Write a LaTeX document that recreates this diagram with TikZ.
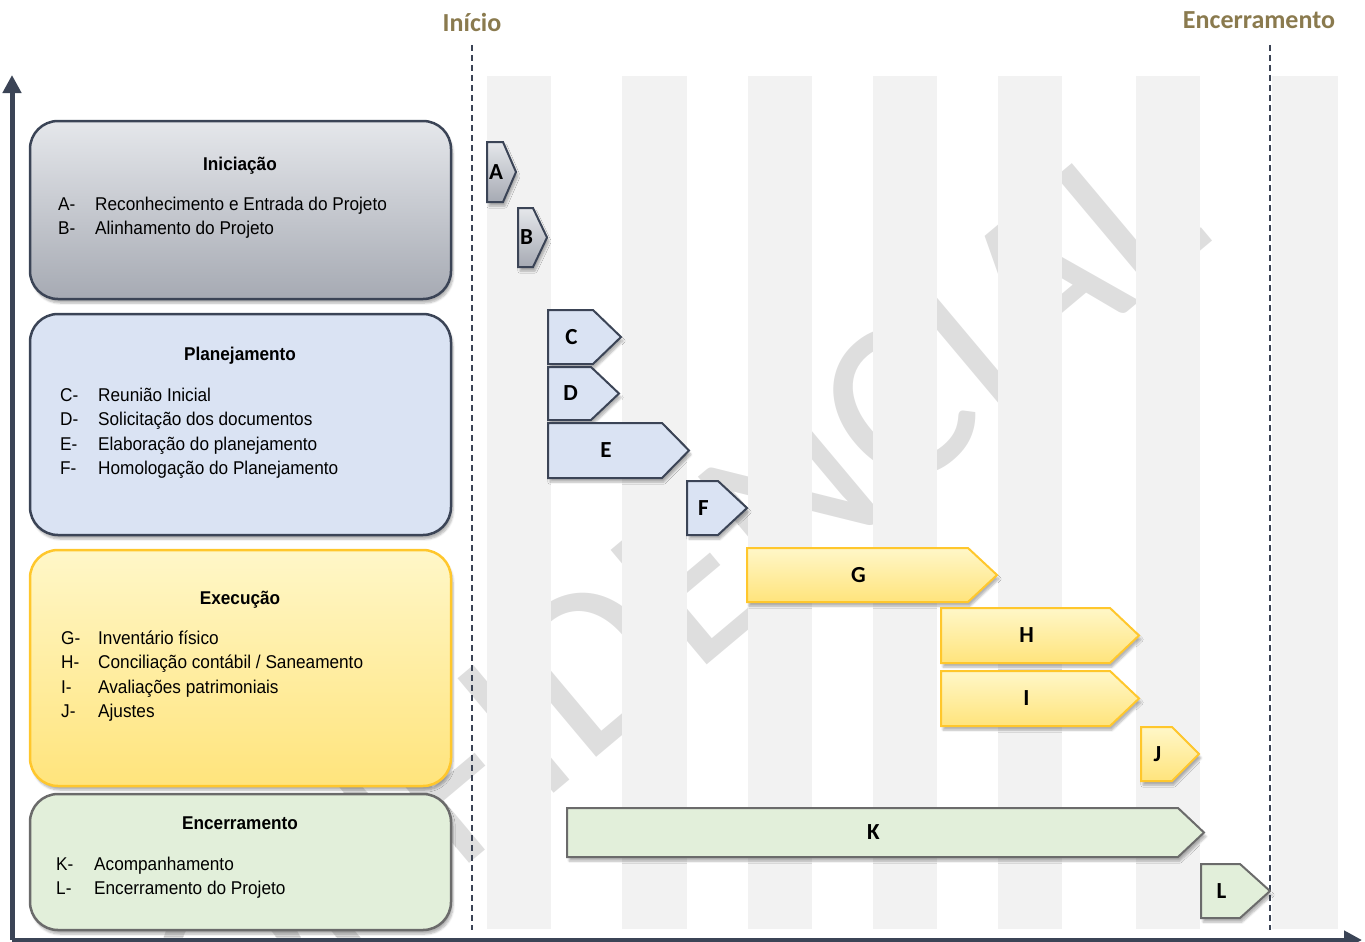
\documentclass[tikz,border=0pt]{standalone}
\usepackage{fontspec}
\setmainfont{Liberation Sans}[FakeStretch=0.93]
\newfontfamily\calibri{Carlito}
\usetikzlibrary{arrows.meta,shadows.blur}

\definecolor{azulescuro}{HTML}{3B4456}
\definecolor{oliva}{HTML}{8A7A4E}
\definecolor{faixacinza}{HTML}{F2F2F2}
\definecolor{marcacinza}{HTML}{DEDEDE}
\definecolor{cinzatopo}{HTML}{E5E7EB}
\definecolor{cinzabase}{HTML}{A6AAB3}
\definecolor{azulclaro}{HTML}{DAE3F3}
\definecolor{amarelotopo}{HTML}{FFF7C8}
\definecolor{amarelobase}{HTML}{FFE47C}
\definecolor{amareloborda}{HTML}{FFC72C}
\definecolor{verdeclaro}{HTML}{E2EFDA}
\definecolor{cinzaborda}{HTML}{6B6B6B}

\tikzset{
  sombra/.style={blur shadow={shadow xshift=2pt, shadow yshift=-4pt, shadow opacity=30, shadow blur steps=6}},
  fase/.style={rounded corners=28pt, line width=2.5pt, minimum width=421pt, sombra},
  titulo/.style={font=\bfseries\fontsize{18.5}{22}\selectfont, anchor=base, inner sep=0pt},
  item/.style={font=\fontsize{18.5}{22}\selectfont, anchor=base west, inner sep=0pt},
  letra/.style={font=\calibri\bfseries\fontsize{23}{27}\selectfont, inner sep=0pt},
  marco/.style={font=\calibri\bfseries\fontsize{26}{30}\selectfont, text=oliva},
  linha marco/.style={azulescuro, line width=2.5pt, dash pattern=on 6pt off 4pt},
  eixo/.style={azulescuro, line width=5pt, -{Triangle[width=18pt,length=18pt]}},
  cinza/.style={draw=azulescuro, line width=2pt, top color=cinzatopo, bottom color=cinzabase, sombra},
  azul/.style={draw=azulescuro, line width=2pt, fill=azulclaro, sombra},
  amarelo/.style={draw=amareloborda, line width=2pt, top color=amarelotopo, bottom color=amarelobase, sombra},
  verde/.style={draw=cinzaborda, line width=2pt, fill=verdeclaro, sombra},
}

% etapa: nome, estilo, x inicio, x ombro, x ponta, y topo, y base
\newcommand{\etapa}[7]{%
  \draw[#2] (#3,#6) -- (#4,#6) -- (#5,{(#6+#7)/2}) -- (#4,#7) -- (#3,#7) -- cycle;
  \node[letra] (#1) at ({(#3+#4)/2+1},{(#6+#7)/2}) {#1};
}

\begin{document}
\begin{tikzpicture}[x=1pt, y=-1pt]
    \useasboundingbox (0,0) rectangle (1365,942);

    % marca d'agua
    \node[font=\calibri\fontsize{233}{233}\selectfont, text=marcacinza, rotate=40] (marca) at (625,636) {CONFIDENCIAL};

    % faixas verticais
    \foreach \xa/\xb in {487/551, 622/687, 748/812, 873/937, 998/1062, 1136/1200, 1272/1338}
        \fill[faixacinza] (\xa,76) rectangle (\xb,929);

    % marcos
    \coordinate (ini-topo) at (472,45);
    \coordinate (ini-base) at (472,930);
    \coordinate (fim-topo) at (1270,45);
    \coordinate (fim-base) at (1270,930);
    \draw[linha marco] (ini-topo) -- (ini-base);
    \draw[linha marco] (fim-topo) -- (fim-base);
    \node[marco] (inicio) at (472,22) {Início};
    \node[marco] (encerramento) at (1259,20) {Encerramento};

    % fases
    \node[fase, draw=azulescuro, top color=cinzatopo, bottom color=cinzabase, minimum height=178pt] (iniciacao) at (240.5,210) {};
    \node[fase, draw=azulescuro, fill=azulclaro, minimum height=221pt] (planejamento) at (240.5,424.5) {};
    \node[fase, draw=amareloborda, top color=amarelotopo, bottom color=amarelobase, minimum height=236pt] (execucao) at (240.5,668) {};
    \node[fase, draw=cinzaborda, fill=verdeclaro, minimum height=136pt] (fechamento) at (240.5,862) {};

    \node[titulo] (tit-ini) at (240,170) {Iniciação};
    \foreach \l/\t [count=\i] in {A-/Reconhecimento e Entrada do Projeto, B-/Alinhamento do Projeto} {
        \node[item] (ini-r\i) at (58,{186+24*\i}) {\l};
        \node[item] (ini-t\i) at (95,{186+24*\i}) {\t};
    }

    \node[titulo] (tit-plan) at (240,360) {Planejamento};
    \foreach \l/\t [count=\i] in {C-/Reunião Inicial, D-/Solicitação dos documentos, E-/Elaboração do planejamento, F-/Homologação do Planejamento} {
        \node[item] (plan-r\i) at (60,{376.5+24.5*\i}) {\l};
        \node[item] (plan-t\i) at (98,{376.5+24.5*\i}) {\t};
    }

    \node[titulo] (tit-exec) at (240,604) {Execução};
    \foreach \l/\t [count=\i] in {G-/Inventário físico, H-/{Conciliação contábil / Saneamento}, I-/Avaliações patrimoniais, J-/Ajustes} {
        \node[item] (exec-r\i) at (61,{619.5+24.5*\i}) {\l};
        \node[item] (exec-t\i) at (98,{619.5+24.5*\i}) {\t};
    }

    \node[titulo] (tit-fech) at (240,829) {Encerramento};
    \foreach \l/\t [count=\i] in {K-/Acompanhamento, L-/Encerramento do Projeto} {
        \node[item] (fech-r\i) at (56,{846+24*\i}) {\l};
        \node[item] (fech-t\i) at (94,{846+24*\i}) {\t};
    }

    % etapas
    \etapa{A}{cinza}{487}{503}{516}{142}{202}
    \etapa{B}{cinza}{518}{533}{547}{208}{267}
    \etapa{C}{azul}{548}{593}{621}{310}{364}
    \etapa{D}{azul}{548}{591}{619}{367}{420}
    \etapa{E}{azul}{548}{662}{689}{423}{478}
    \etapa{F}{azul}{687}{718}{747}{481}{535}
    \etapa{G}{amarelo}{747}{968}{997}{548}{602}
    \etapa{H}{amarelo}{941}{1110}{1139}{608}{663}
    \etapa{I}{amarelo}{941}{1110}{1139}{671}{726}
    \etapa{J}{amarelo}{1141}{1172}{1199}{727}{781}
    \etapa{K}{verde}{567}{1178}{1204}{808}{857}
    \etapa{L}{verde}{1201}{1240}{1270}{864}{918}

    % eixos
    \coordinate (origem) at (12,940);
    \coordinate (eixo-y) at (12,75);
    \coordinate (eixo-x) at (1362,940);
    \draw[eixo] (origem) -- (eixo-y);
    \draw[eixo] (origem) -- (eixo-x);
\end{tikzpicture}
\end{document}
